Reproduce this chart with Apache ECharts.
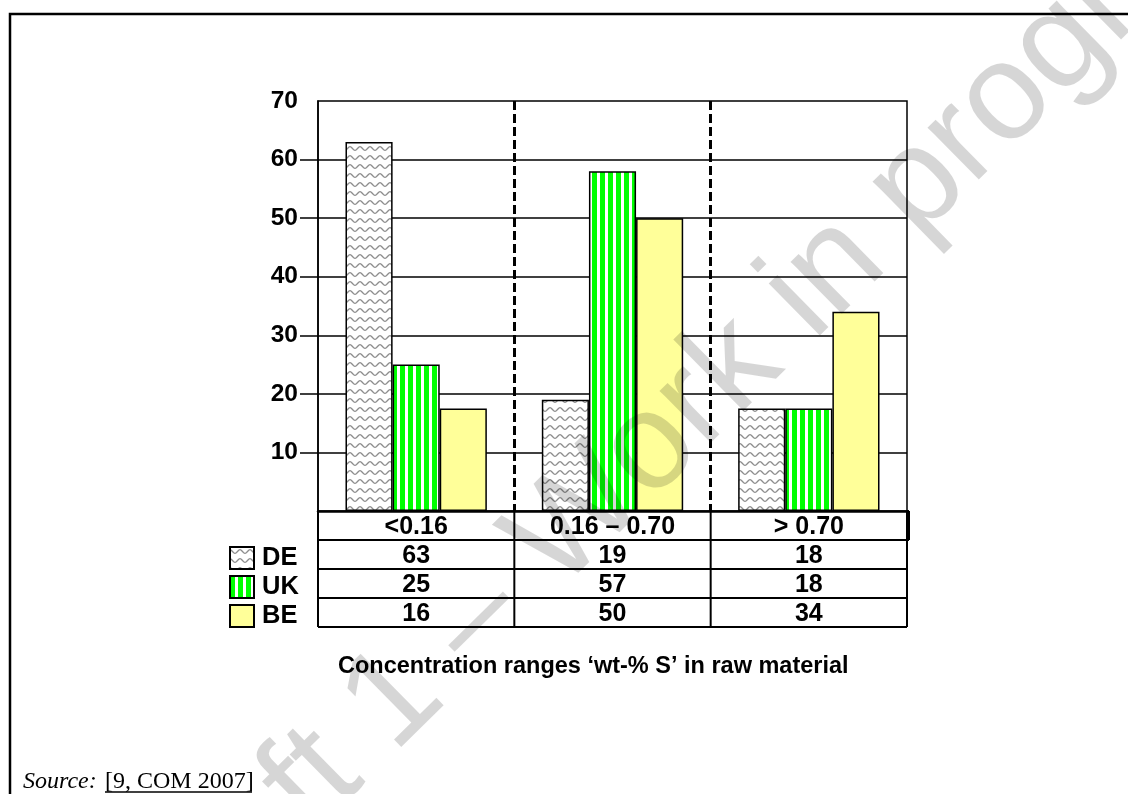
<!DOCTYPE html>
<html><head><meta charset="utf-8">
<script src="https://cdn.jsdelivr.net/npm/echarts@6/dist/echarts.min.js"></script>
<style>html,body{margin:0;padding:0;background:#fff}#c{width:1128px;height:794px}</style>
</head><body><div id="c"></div>
<script>
const categories = ['<0.16', '0.16 – 0.70', '> 0.70'];
const seriesNames = ['DE', 'UK', 'BE'];
// bar heights as drawn in the picture
const barDE = [63, 19, 17.5];
const barUK = [25, 58, 17.5];
const barBE = [17.5, 50, 34];
// values printed in the table under the chart
const tableDE = ['63', '19', '18'];
const tableUK = ['25', '57', '18'];
const tableBE = ['16', '50', '34'];
const yTickValues = [10, 20, 30, 40, 50, 60];
const yLabelValues = [10, 20, 30, 40, 50, 60, 70];
const xTitle = 'Concentration ranges ‘wt-% S’ in raw material';
const watermark = 'Draft 1 – Work in progress';

const FONT = 'Liberation Sans, Arial, sans-serif';

function wavePattern() {
  const c = document.createElement('canvas');
  c.width = 10; c.height = 9;
  const g = c.getContext('2d');
  g.fillStyle = '#ffffff'; g.fillRect(0, 0, 10, 9);
  g.strokeStyle = '#8c8c8c'; g.lineWidth = 1.3;
  g.beginPath();
  for (let x = -1; x <= 11; x += 0.5) {
    const y = 4.5 - 1.8 * Math.cos(2 * Math.PI * x / 10);
    if (x === -1) g.moveTo(x, y); else g.lineTo(x, y);
  }
  g.stroke();
  return c;
}
function stripePattern() {
  const c = document.createElement('canvas');
  c.width = 8; c.height = 8;
  const g = c.getContext('2d');
  g.fillStyle = '#ffffff'; g.fillRect(0, 0, 8, 8);
  g.fillStyle = '#00ff00'; g.fillRect(0, 0, 5, 8);
  return c;
}

const colors = [
  { image: wavePattern(), repeat: 'repeat' },
  { image: stripePattern(), repeat: 'repeat' },
  '#ffff99'
];
const barData = [barDE, barUK, barBE];

const xLabels = categories.map((c, i) => [c, tableDE[i], tableUK[i], tableBE[i]].join('\n'));

const chart = echarts.init(document.getElementById('c'), null, { renderer: 'canvas' });

const option = {
  animation: false,
  backgroundColor: '#ffffff',
  title: [{
    text: xTitle, left: 338, top: 655, padding: 0,
    textStyle: { fontFamily: FONT, fontWeight: 'bold', fontSize: 23.5, color: '#000' }
  }],
  legend: {
    orient: 'vertical', left: 229, top: 545, itemWidth: 24, itemHeight: 22, itemGap: 3,
    icon: 'rect', selectedMode: false, padding: 0,
    data: seriesNames,
    textStyle: { fontFamily: FONT, fontWeight: 'bold', fontSize: 25.5, color: '#000', lineHeight: 22, padding: [0, 0, 0, 3] }
  },
  grid: {
    left: 318, right: 221, top: 101, bottom: 283, show: true,
    borderColor: '#000', borderWidth: 1.5, backgroundColor: 'rgba(0,0,0,0)'
  },
  xAxis: {
    type: 'category', data: xLabels,
    axisLine: { lineStyle: { color: '#000', width: 2.5 } },
    axisTick: { show: false },
    axisLabel: {
      interval: 0, margin: 2, color: '#000', fontFamily: FONT, fontWeight: 'bold', fontSize: 25, lineHeight: 29
    },
    splitLine: {
      show: true, interval: 0, showMinLine: false, showMaxLine: false,
      lineStyle: { color: '#000', width: 3, type: [9, 4] }
    }
  },
  yAxis: {
    type: 'value', min: 0, max: 70, interval: 10,
    axisLine: { show: true, lineStyle: { color: '#000', width: 1.5 } },
    axisTick: { show: true, customValues: yTickValues, length: 18, lineStyle: { color: '#000', width: 1.5 } },
    axisLabel: { customValues: yLabelValues, margin: 20, color: '#000', fontFamily: FONT, fontWeight: 'bold', fontSize: 24.5 },
    splitLine: { show: true, lineStyle: { color: '#000', width: 1.5 } }
  },
  series: seriesNames.map((n, k) => ({
    name: n, type: 'bar', data: barData[k],
    barGap: '0%', barCategoryGap: '28%',
    itemStyle: { color: colors[k], borderColor: '#000', borderWidth: 1.5 },
    emphasis: { disabled: true }
  }))
};
chart.setOption(option);

// table grid lines positioned from the axes
const c0 = chart.convertToPixel({ xAxisIndex: 0 }, 0);
const c1 = chart.convertToPixel({ xAxisIndex: 0 }, 1);
const band = c1 - c0;
const xLeft = c0 - band / 2;
const xRight = xLeft + band * categories.length;
const y0 = chart.convertToPixel({ yAxisIndex: 0 }, 0);
const rowH = 29;
const nRows = 4;
const lines = [];
const ls = { stroke: '#000', lineWidth: 2 };
for (let r = 1; r <= nRows; r++) {
  lines.push({ type: 'line', shape: { x1: xLeft, y1: y0 + r * rowH, x2: r === 1 ? xRight + 2 : xRight, y2: y0 + r * rowH }, style: ls, silent: true });
}
for (let k = 0; k <= categories.length; k++) {
  const x = xLeft + k * band;
  lines.push({ type: 'line', shape: { x1: x, y1: y0, x2: x, y2: y0 + nRows * rowH }, style: ls, silent: true });
}
lines.push({ type: 'line', shape: { x1: xRight + 2, y1: y0, x2: xRight + 2, y2: y0 + rowH }, style: ls, silent: true });
lines.push({ type: 'line', shape: { x1: xRight, y1: y0, x2: xRight + 2, y2: y0 }, style: ls, silent: true });

// page frame, source, watermark
const serif = 'Liberation Serif, Times New Roman, serif';
const extras = [
  { type: 'rect', shape: { x: 10, y: 14, width: 1200, height: 900 }, style: { fill: null, stroke: '#000', lineWidth: 2.5 }, silent: true, z: 0 },
  { type: 'text', x: 23, y: 794, style: { text: 'Source:', font: 'italic 24px ' + serif, fill: '#000', verticalAlign: 'bottom' }, silent: true },
  { type: 'text', x: 105, y: 794, style: { text: '[9, COM 2007]', font: '24px ' + serif, fill: '#000', verticalAlign: 'bottom' }, silent: true },
  { type: 'line', shape: { x1: 105, y1: 792, x2: 252, y2: 792 }, style: { stroke: '#000', lineWidth: 1.5 }, silent: true },
  { type: 'text', x: 700, y: 400, rotation: 44.5 * Math.PI / 180, z: 100,
    style: { text: watermark, font: '138px Liberation Sans, Arial, sans-serif', fill: 'rgba(0,0,0,0.16)', align: 'center', verticalAlign: 'middle' }, silent: true }
];
chart.setOption({ graphic: lines.concat(extras) });
</script>
</body></html>
